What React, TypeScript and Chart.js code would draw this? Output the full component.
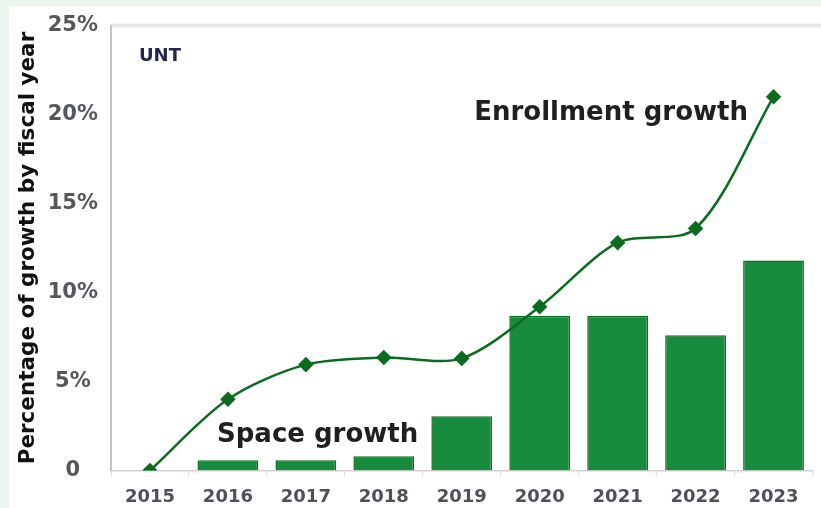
import React, { useEffect, useRef } from "react";
import { Chart, registerables } from "chart.js";

Chart.register(...registerables);

const years = ["2015", "2016", "2017", "2018", "2019", "2020", "2021", "2022", "2023"];
const spaceGrowth = [null, 0.57, 0.57, 0.8, 3.05, 8.7, 8.7, 7.6, 11.8];
const enrollmentGrowth = [0, 4.0, 5.95, 6.35, 6.3, 9.2, 12.8, 13.6, 21.0];
const yTicks = [0, 5, 10, 15, 20, 25];
const yTitle = "Percentage of growth by fiscal year";
const labelEnrollment = "Enrollment growth";
const labelSpace = "Space growth";
const labelUnt = "UNT";

const FONT = "'DejaVu Sans', sans-serif";

const backdropPlugin = {
  id: "backdrop",
  beforeDraw(chart: any) {
    const { ctx, width, height, chartArea } = chart;
    ctx.save();
    ctx.fillStyle = "#ebf5ed";
    ctx.fillRect(0, 0, width, height);
    ctx.fillStyle = "#ffffff";
    ctx.fillRect(9, 6, width - 9, height - 6);
    ctx.fillStyle = "#e5e5e5";
    ctx.fillRect(chartArea.left, chartArea.top - 2, chartArea.right - chartArea.left + 10, 4);
    ctx.restore();
  },
  afterDraw(chart: any) {
    const { ctx } = chart;
    ctx.save();
    ctx.textBaseline = "alphabetic";
    ctx.fillStyle = "#1f1f1f";
    ctx.font = `bold 26px ${FONT}`;
    ctx.textAlign = "right";
    ctx.fillText(labelEnrollment, 748, 120);
    ctx.textAlign = "left";
    ctx.fillText(labelSpace, 217, 442);
    ctx.fillStyle = "#22264d";
    ctx.font = `bold 18px ${FONT}`;
    ctx.fillText(labelUnt, 139, 61);
    ctx.restore();
  },
};

export default function App() {
  const ref = useRef<HTMLCanvasElement | null>(null);

  useEffect(() => {
    if (!ref.current) return;
    const chart = new Chart(ref.current, {
      type: "bar",
      data: {
        labels: years,
        datasets: [
          {
            type: "line",
            label: labelEnrollment,
            data: enrollmentGrowth,
            borderColor: "#0b6b1f",
            backgroundColor: "#0b6b1f",
            borderWidth: 2.5,
            tension: 0.3,
            pointStyle: "rectRot",
            pointRadius: 6,
            pointBackgroundColor: "#0b6b1f",
            pointBorderColor: "#0b6b1f",
            order: 0,
          } as any,
          {
            type: "bar",
            label: labelSpace,
            data: spaceGrowth as any,
            backgroundColor: "#168b3b",
            borderColor: "#0d6e25",
            borderWidth: 1.5,
            categoryPercentage: 1,
            barPercentage: 0.78,
            order: 1,
          },
        ],
      },
      options: {
        responsive: false,
        animation: false,
        devicePixelRatio: 1,
        layout: { padding: { left: 12, top: 25, right: 3, bottom: 0 } },
        plugins: {
          legend: { display: false },
          tooltip: { enabled: false },
          title: { display: false },
        },
        scales: {
          x: {
            offset: true,
            grid: {
              display: true,
              drawOnChartArea: false,
              drawTicks: true,
              tickLength: 5,
              offset: true,
              color: "#e2d8dc",
            },
            border: { display: true, color: "#d6d0d3", width: 1.5 },
            ticks: {
              color: "#4e5156",
              font: { family: FONT, size: 18, weight: "bold" },
              padding: 11,
              maxRotation: 0,
              autoSkip: false,
            },
            afterFit(scale: any) {
              scale.height = 37.5;
            },
          },
          y: {
            min: 0,
            max: 25,
            afterBuildTicks(scale: any) {
              scale.ticks = yTicks.map((v) => ({ value: v }));
            },
            grid: { display: false, drawTicks: false },
            border: { display: true, color: "#c4c4c4", width: 2 },
            ticks: {
              color: "#54575c",
              font: { family: FONT, size: 21, weight: "bold" },
              padding: 13,
              crossAlign: "center",
              callback: (v: any) => (Number(v) === 0 ? "0" : `${v}%`),
            },
            title: {
              display: true,
              text: yTitle,
              color: "#111111",
              font: { family: FONT, size: 21.5, weight: "bold" },
              padding: { top: 4, bottom: 4 },
            },
            afterFit(scale: any) {
              scale.width = 99;
            },
          },
        },
      },
      plugins: [backdropPlugin],
    });
    return () => chart.destroy();
  }, []);

  return (
    <div style={{ position: "fixed", left: 0, top: 0, width: 821, height: 508 }}>
      <canvas ref={ref} width={821} height={508} style={{ display: "block" }} />
    </div>
  );
}
